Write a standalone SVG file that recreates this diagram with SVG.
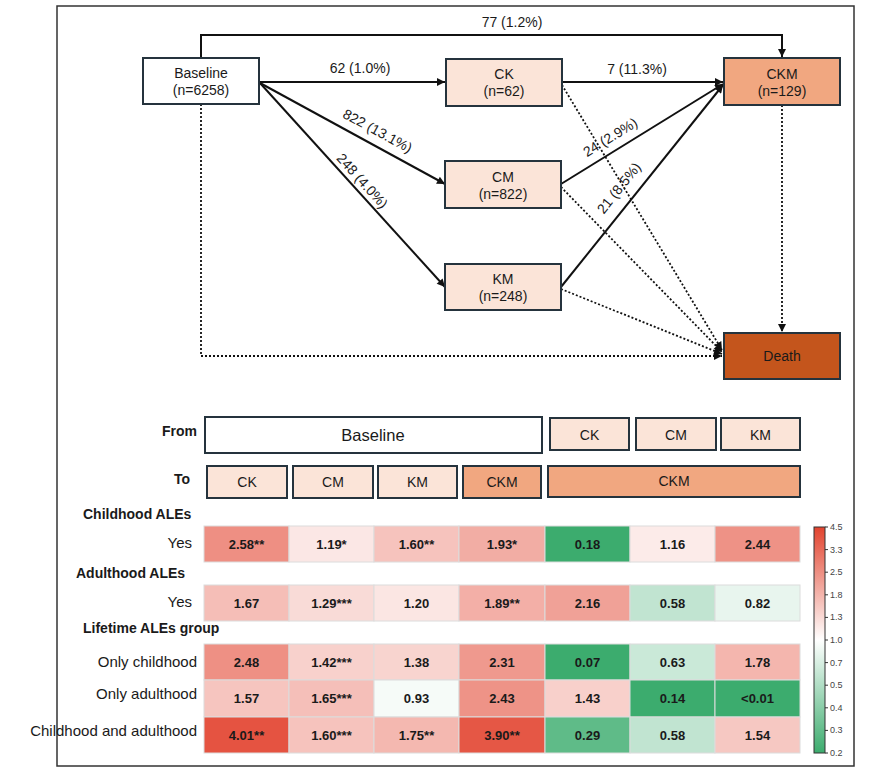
<svg xmlns="http://www.w3.org/2000/svg" width="879" height="781" viewBox="0 0 879 781">
<defs>
<style>
text{font-family:"Liberation Sans",Arial,sans-serif;fill:#1a1a1a}
.box{stroke:#25333d;stroke-width:2}
.lt{fill:#fbe4d8}
.ckm{fill:#f1a780}
.lbl{font-size:14px;text-anchor:middle}
.solid{stroke:#111;stroke-width:2;fill:none}
.dot{stroke:#111;stroke-width:1.8;stroke-dasharray:2 2;fill:none}
.hdr{font-size:14px;font-weight:bold}
.rl{font-size:15px;text-anchor:end}
.cell{stroke:#dcdcdc;stroke-width:1}
.v{font-size:13px;font-weight:bold;text-anchor:middle}
.tk{font-size:9px;fill:#444}
</style>
<marker id="ah" viewBox="0 0 10 10" refX="10" refY="5" markerWidth="9" markerHeight="8" orient="auto" markerUnits="userSpaceOnUse"><path d="M0,0 L10,5 L0,10 z" fill="#111"/></marker>
<linearGradient id="cb" x1="0" y1="0" x2="0" y2="1">
<stop offset="0" stop-color="#e2442f"/>
<stop offset="0.5" stop-color="#ffffff"/>
<stop offset="1" stop-color="#3cac6e"/>
</linearGradient>
</defs>
<rect width="879" height="781" fill="#fff"/>
<rect x="57" y="6" width="797" height="760" fill="none" stroke="#333" stroke-width="1.5"/>

<g id="connectors">
<polyline class="solid" points="201,58 201,35 782,35 782,57" marker-end="url(#ah)"/>
<text class="lbl" x="512" y="27">77 (1.2%)</text>
<line class="solid" x1="259" y1="82" x2="445" y2="82" marker-end="url(#ah)"/>
<text class="lbl" x="360" y="73">62 (1.0%)</text>
<line class="solid" x1="260" y1="83" x2="445" y2="184" marker-end="url(#ah)"/>
<text class="lbl" transform="translate(371,143) rotate(28.4)" y="-9">822 (13.1%)</text>
<line class="solid" x1="260" y1="83" x2="445" y2="287" marker-end="url(#ah)"/>
<text class="lbl" transform="translate(355,187.5) rotate(47.8)" y="-5">248 (4.0%)</text>
<line class="solid" x1="562" y1="82" x2="723" y2="82" marker-end="url(#ah)"/>
<text class="lbl" x="637" y="74">7 (11.3%)</text>
<line class="solid" x1="561" y1="184" x2="723" y2="84" marker-end="url(#ah)"/>
<text class="lbl" transform="translate(617.5,149) rotate(-31.7)" y="-9">24 (2.9%)</text>
<line class="solid" x1="561" y1="287" x2="723" y2="85" marker-end="url(#ah)"/>
<text class="lbl" transform="translate(632,198.5) rotate(-51.3)" y="-12">21 (8.5%)</text>
<line class="dot" x1="562" y1="85" x2="722" y2="350" marker-end="url(#ah)"/>
<line class="dot" x1="561" y1="187" x2="722" y2="352" marker-end="url(#ah)"/>
<line class="dot" x1="561" y1="289" x2="722" y2="354" marker-end="url(#ah)"/>
<polyline class="dot" points="201,104 201,356 722,356" marker-end="url(#ah)"/>
<line class="dot" x1="782" y1="105" x2="782" y2="332" marker-end="url(#ah)"/>
</g>

<g id="baseline"><rect class="box" x="143" y="58" width="116" height="46" fill="#fff"/><text class="lbl" x="201" y="78">Baseline</text><text class="lbl" x="201" y="95">(n=6258)</text></g>
<g id="ck"><rect class="box lt" x="446" y="59" width="116" height="47"/><text class="lbl" x="504" y="79">CK</text><text class="lbl" x="504" y="96">(n=62)</text></g>
<g id="ckm"><rect class="box ckm" x="724" y="58" width="116" height="47"/><text class="lbl" x="782" y="79">CKM</text><text class="lbl" x="782" y="96">(n=129)</text></g>
<g id="cm"><rect class="box lt" x="445" y="161" width="116" height="47"/><text class="lbl" x="503" y="182">CM</text><text class="lbl" x="503" y="199">(n=822)</text></g>
<g id="km"><rect class="box lt" x="445" y="264" width="116" height="46"/><text class="lbl" x="503" y="284">KM</text><text class="lbl" x="503" y="301">(n=248)</text></g>
<g id="death"><rect class="box" x="724" y="333" width="116" height="46" fill="#c4551c"/><text class="lbl" x="782" y="361">Death</text></g>

<g id="header">
<text class="hdr" x="197" y="436" text-anchor="end">From</text>
<text class="hdr" x="190" y="484" text-anchor="end">To</text>
<rect class="box" x="205" y="417" width="337" height="36" fill="#fff"/><text x="373" y="441" font-size="16.5" text-anchor="middle">Baseline</text>
<rect class="box lt" x="550" y="418" width="79" height="32"/><text class="lbl" x="589.5" y="440">CK</text>
<rect class="box lt" x="636" y="418" width="80" height="32"/><text class="lbl" x="676" y="440">CM</text>
<rect class="box lt" x="721" y="418" width="79" height="32"/><text class="lbl" x="760.5" y="440">KM</text>
<rect class="box lt" x="207" y="466" width="80" height="32"/><text class="lbl" x="247" y="487">CK</text>
<rect class="box lt" x="293" y="466" width="80" height="32"/><text class="lbl" x="333" y="487">CM</text>
<rect class="box lt" x="378" y="466" width="79" height="32"/><text class="lbl" x="417.5" y="487">KM</text>
<rect class="box ckm" x="463" y="466" width="78" height="32"/><text class="lbl" x="502" y="487" font-size="13">CKM</text>
<rect class="box ckm" x="548" y="466" width="252" height="31"/><text class="lbl" x="674" y="486" font-size="13">CKM</text>
</g>

<g id="heatmap">
<text class="hdr" x="83" y="519">Childhood ALEs</text>
<text class="hdr" x="76" y="578">Adulthood ALEs</text>
<text class="hdr" x="83" y="633">Lifetime ALEs group</text>
<text class="rl" x="192" y="548">Yes</text>
<text class="rl" x="192" y="607">Yes</text>
<text class="rl" x="197" y="667">Only childhood</text>
<text class="rl" x="197" y="699">Only adulthood</text>
<text class="rl" x="197" y="736">Childhood and adulthood</text>

<rect class="cell" x="204" y="526" width="85" height="36" fill="rgb(238,143,131)"/><text class="v" x="246.5" y="548.5">2.58**</text>
<rect class="cell" x="289" y="526" width="85" height="36" fill="rgb(251,231,229)"/><text class="v" x="331.5" y="548.5">1.19*</text>
<rect class="cell" x="374" y="526" width="85" height="36" fill="rgb(246,195,189)"/><text class="v" x="416.5" y="548.5">1.60**</text>
<rect class="cell" x="459" y="526" width="86" height="36" fill="rgb(242,173,164)"/><text class="v" x="502" y="548.5">1.93*</text>
<rect class="cell" x="545" y="526" width="85" height="36" fill="rgb(60,172,110)"/><text class="v" x="587.5" y="548.5">0.18</text>
<rect class="cell" x="630" y="526" width="85" height="36" fill="rgb(252,235,233)"/><text class="v" x="672.5" y="548.5">1.16</text>
<rect class="cell" x="715" y="526" width="85" height="36" fill="rgb(238,146,134)"/><text class="v" x="757.5" y="548.5">2.44</text>

<rect class="cell" x="204" y="585" width="85" height="36" fill="rgb(245,190,183)"/><text class="v" x="246.5" y="607.5">1.67</text>
<rect class="cell" x="289" y="585" width="85" height="36" fill="rgb(249,219,215)"/><text class="v" x="331.5" y="607.5">1.29***</text>
<rect class="cell" x="374" y="585" width="85" height="36" fill="rgb(251,230,227)"/><text class="v" x="416.5" y="607.5">1.20</text>
<rect class="cell" x="459" y="585" width="86" height="36" fill="rgb(243,175,167)"/><text class="v" x="502" y="607.5">1.89**</text>
<rect class="cell" x="545" y="585" width="85" height="36" fill="rgb(240,161,151)"/><text class="v" x="587.5" y="607.5">2.16</text>
<rect class="cell" x="630" y="585" width="85" height="36" fill="rgb(193,228,209)"/><text class="v" x="672.5" y="607.5">0.58</text>
<rect class="cell" x="715" y="585" width="85" height="36" fill="rgb(232,245,238)"/><text class="v" x="757.5" y="607.5">0.82</text>

<rect class="cell" x="204" y="644" width="85" height="36" fill="rgb(238,144,132)"/><text class="v" x="246.5" y="666.5">2.48</text>
<rect class="cell" x="289" y="644" width="85" height="36" fill="rgb(248,209,204)"/><text class="v" x="331.5" y="666.5">1.42***</text>
<rect class="cell" x="374" y="644" width="85" height="36" fill="rgb(248,212,207)"/><text class="v" x="416.5" y="666.5">1.38</text>
<rect class="cell" x="459" y="644" width="86" height="36" fill="rgb(239,153,142)"/><text class="v" x="502" y="666.5">2.31</text>
<rect class="cell" x="545" y="644" width="85" height="36" fill="rgb(60,172,110)"/><text class="v" x="587.5" y="666.5">0.07</text>
<rect class="cell" x="630" y="644" width="85" height="36" fill="rgb(202,233,216)"/><text class="v" x="672.5" y="666.5">0.63</text>
<rect class="cell" x="715" y="644" width="85" height="36" fill="rgb(244,182,174)"/><text class="v" x="757.5" y="666.5">1.78</text>

<rect class="cell" x="204" y="680" width="85" height="37" fill="rgb(246,197,191)"/><text class="v" x="246.5" y="703">1.57</text>
<rect class="cell" x="289" y="680" width="85" height="37" fill="rgb(245,191,185)"/><text class="v" x="331.5" y="703">1.65***</text>
<rect class="cell" x="374" y="680" width="85" height="37" fill="rgb(246,251,248)"/><text class="v" x="416.5" y="703">0.93</text>
<rect class="cell" x="459" y="680" width="86" height="37" fill="rgb(238,147,135)"/><text class="v" x="502" y="703">2.43</text>
<rect class="cell" x="545" y="680" width="85" height="37" fill="rgb(248,208,203)"/><text class="v" x="587.5" y="703">1.43</text>
<rect class="cell" x="630" y="680" width="85" height="37" fill="rgb(60,172,110)"/><text class="v" x="672.5" y="703">0.14</text>
<rect class="cell" x="715" y="680" width="85" height="37" fill="rgb(60,172,110)"/><text class="v" x="757.5" y="703">&lt;0.01</text>

<rect class="cell" x="204" y="717" width="85" height="36" fill="rgb(229,83,65)"/><text class="v" x="246.5" y="739.5">4.01**</text>
<rect class="cell" x="289" y="717" width="85" height="36" fill="rgb(246,195,189)"/><text class="v" x="331.5" y="739.5">1.60***</text>
<rect class="cell" x="374" y="717" width="85" height="36" fill="rgb(244,184,176)"/><text class="v" x="416.5" y="739.5">1.75**</text>
<rect class="cell" x="459" y="717" width="86" height="36" fill="rgb(229,87,69)"/><text class="v" x="502" y="739.5">3.90**</text>
<rect class="cell" x="545" y="717" width="85" height="36" fill="rgb(95,187,136)"/><text class="v" x="587.5" y="739.5">0.29</text>
<rect class="cell" x="630" y="717" width="85" height="36" fill="rgb(193,228,209)"/><text class="v" x="672.5" y="739.5">0.58</text>
<rect class="cell" x="715" y="717" width="85" height="36" fill="rgb(246,200,194)"/><text class="v" x="757.5" y="739.5">1.54</text>
</g>

<g id="colorbar">
<rect x="814" y="527" width="11" height="226" fill="url(#cb)" stroke="#333" stroke-width="1"/>
<g stroke="#333" stroke-width="1">
<line x1="825" y1="527" x2="828" y2="527"/><line x1="825" y1="549.6" x2="828" y2="549.6"/><line x1="825" y1="572.2" x2="828" y2="572.2"/><line x1="825" y1="594.8" x2="828" y2="594.8"/><line x1="825" y1="617.4" x2="828" y2="617.4"/><line x1="825" y1="640" x2="828" y2="640"/><line x1="825" y1="662.6" x2="828" y2="662.6"/><line x1="825" y1="685.2" x2="828" y2="685.2"/><line x1="825" y1="707.8" x2="828" y2="707.8"/><line x1="825" y1="730.4" x2="828" y2="730.4"/><line x1="825" y1="753" x2="828" y2="753"/>
</g>
<text class="tk" x="830" y="530">4.5</text>
<text class="tk" x="830" y="552.6">3.3</text>
<text class="tk" x="830" y="575.2">2.5</text>
<text class="tk" x="830" y="597.8">1.8</text>
<text class="tk" x="830" y="620.4">1.3</text>
<text class="tk" x="830" y="643">1.0</text>
<text class="tk" x="830" y="665.6">0.7</text>
<text class="tk" x="830" y="688.2">0.5</text>
<text class="tk" x="830" y="710.8">0.4</text>
<text class="tk" x="830" y="733.4">0.3</text>
<text class="tk" x="830" y="756">0.2</text>
</g>
</svg>
